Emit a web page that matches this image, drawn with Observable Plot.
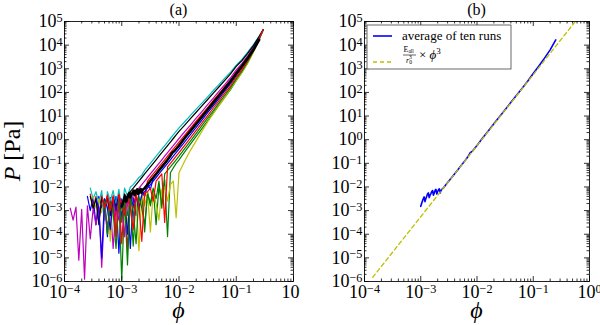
<!DOCTYPE html>
<html><head><meta charset="utf-8">
<script src="https://cdn.jsdelivr.net/npm/d3@7"></script>
<script src="https://cdn.jsdelivr.net/npm/@observablehq/plot@0.6"></script>
<style>
body{margin:0;background:#fff;}
#wrap{display:flex;width:600px;height:325px;overflow:hidden;}
svg{overflow:hidden;}
</style></head><body><div id="wrap"></div>
<script>
// ---------- data (log10 values) ----------
// common log10(phi) sampling of the ten runs; each run is aligned to the END of this grid
const logPhiGrid = [-3.9,-3.85,-3.8,-3.75,-3.7,-3.65,-3.6,-3.55,-3.5,-3.45,-3.4,-3.35,-3.3,-3.25,-3.2,-3.15,-3.1,-3.05,-3.0,-2.95,-2.9,-2.85,-2.8,-2.75,-2.7,-2.65,-2.6,-2.55,-2.5,-2.45,-2.4,-2.35,-2.3,-2.25,-2.2,-2.15,-2.1,-2.05,-2.0,-1.9,-1.8,-1.7,-1.6,-1.5,-1.4,-1.3,-1.2,-1.1,-1.0,-0.9,-0.8,-0.7,-0.6,-0.53];

const runBlue1 = [-2.4,-3.0,-2.45,-3.6,-2.4,-2.9,-2.5,-4.1,-2.45,-3.1,-2.4,-4.8,-2.5,-2.95,-2.4,-4.6,-2.45,-3.2,-2.3,
  -2.15,-2.4,-1.9,-2.1,-1.65,-1.45,-1.3,-1.15,-1.0,-0.85,-0.7,-0.55,-0.4,-0.25,
  0.08,0.33,0.66,0.93,1.27,1.53,1.86,2.13,2.46,2.78,3.11,3.44,3.86,4.28,4.65];
const runGreen1 = [-2.5,-3.1,-2.6,-4.1,-2.5,-5.95,-2.5,-3.2,-2.4,-4.5,-2.3,-3.0,-2.3,-3.9,-2.2,-2.8,-2.1,-3.6,-1.95,-2.7,-1.7,-4.1,-1.4,-1.2,-1.0,-0.85,
  -0.52,-0.19,0.14,0.47,0.8,1.13,1.46,1.79,2.12,2.5,2.85,3.25,3.72,4.24,4.65];
const runRed1 = [-2.3,-2.9,-2.4,-3.5,-2.35,-2.8,-2.4,-3.9,-2.35,-3.0,-2.4,-4.4,-2.3,-4.7,-2.35,-2.9,-2.25,
  -2.2,-2.1,-2.4,-1.75,-1.6,-1.45,-1.3,-1.15,-1.0,-0.85,-0.7,-0.55,-0.4,-0.25,-0.1,
  0.19,0.49,0.78,1.07,1.36,1.66,1.95,2.24,2.53,2.88,3.16,3.5,3.88,4.32,4.65];
const runCyan = [-2.05,-2.5,-2.2,-2.7,-2.15,-3.4,-2.2,-2.6,-2.15,-2.8,-2.1,-3.0,-2.05,-2.4,
  -2.0,-1.9,-1.75,-1.6,-1.5,-1.3,-1.15,-1.0,-0.85,-0.7,-0.55,-0.4,-0.25,-0.1,0.05,0.2,0.35,0.5,
  0.76,1.03,1.29,1.55,1.81,2.08,2.34,2.6,2.86,3.15,3.4,3.7,4.02,4.38,4.65];
const runMagenta = [-2.9,-3.4,-2.85,-5.1,-2.95,-5.9,-2.8,-4.2,-2.9,-3.6,-2.8,-5.4,-2.9,-3.7,-2.7,-4.6,-2.8,-3.4,-2.6,-4.1,-2.5,-2.9,
  -2.35,-2.2,-2.05,-1.9,-1.75,-1.6,-1.45,-1.3,-1.15,-1.0,-0.85,-0.7,-0.55,-0.4,-0.25,-0.1,0.05,
  0.34,0.62,0.91,1.19,1.48,1.76,2.05,2.33,2.62,2.95,3.23,3.55,3.92,4.33,4.65];
const runYellow = [-2.4,-2.9,-2.5,-3.1,-2.5,-2.8,-4.3,-2.5,-2.9,-2.45,-3.0,-2.5,-3.6,-2.4,-2.8,-2.45,-4.7,-2.3,-2.8,-2.25,-3.9,-2.2,-2.7,-3.4,-2.1,-2.0,-2.6,-1.9,-1.75,-3.3,-1.4,
  -0.9,-0.45,-0.05,0.35,0.75,1.1,1.45,1.8,2.15,2.5,2.85,3.25,3.7,4.23,4.65];
const runBlack = [-2.4,-2.9,-2.5,-3.6,-2.45,-2.8,-2.4,-3.2,-2.45,-2.85,-2.35,-2.9,-2.3,-2.6,-2.2,
  -2.05,-1.9,-1.75,-1.6,-1.45,-1.3,-1.15,-1.0,-0.85,-0.7,-0.55,-0.4,-0.25,-0.1,0.05,0.2,0.35,
  0.62,0.89,1.16,1.43,1.7,1.97,2.24,2.51,2.78,3.1,3.35,3.65,3.98,4.36,4.65];
const runBlue2 = [-2.5,-2.9,-5.0,-2.5,-2.9,-3.8,-2.45,-3.0,-2.4,-3.3,-2.45,-4.0,-2.4,-2.8,-2.4,-2.9,
  -2.35,-2.2,-2.05,-1.9,-1.75,-1.6,-1.45,-1.3,-1.15,-1.0,-0.85,-0.7,-0.55,-0.4,
  -0.09,0.21,0.52,0.83,1.14,1.44,1.75,2.06,2.37,2.72,3.04,3.4,3.82,4.28,4.65];
const runGreen2 = [-2.6,-4.0,-2.6,-3.1,-4.6,-2.5,-3.5,-2.5,-5.3,-2.45,-3.0,-4.4,-2.4,-2.9,-3.6,-2.3,-2.7,-2.05,-2.5,-1.75,
  -2.9,-1.45,-1.3,-1.15,-1.0,-0.85,-0.7,
  -0.38,-0.06,0.27,0.59,0.91,1.23,1.56,1.88,2.2,2.57,2.91,3.3,3.75,4.25,4.65];
const runRed2 = [-2.4,-2.9,-2.35,-3.0,-2.4,-4.1,-2.3,-2.8,-3.2,-2.35,-2.9,-3.8,-2.3,-2.8,-4.3,-2.25,-2.2,-2.05,-2.6,
  -1.75,-1.6,-1.45,-3.5,-1.15,-1.0,-0.85,-0.7,-0.55,
  -0.24,0.08,0.39,0.71,1.02,1.34,1.65,1.97,2.28,2.65,2.97,3.35,3.78,4.27,4.65];

// average of the ten runs
const logPhiAvg = [-3.0,-2.985,-2.97,-2.955,-2.94,-2.925,-2.91,-2.895,-2.88,-2.865,-2.85,-2.835,-2.82,-2.805,-2.79,-2.775,-2.76,-2.745,-2.73,-2.715,-2.7,-2.685,-2.67,-2.655,-2.64,-2.625,
  -2.6,-2.55,-2.5,-2.45,-2.4,-2.35,-2.3,-2.25,-2.2,-2.15,-2.12,-2.08,
  -2.0,-1.9,-1.8,-1.7,-1.6,-1.5,-1.4,-1.3,-1.2,-1.1,-1.0,-0.9,-0.8,-0.7,-0.6];
const logPAvg = [-2.82,-2.7,-2.6,-2.5,-2.42,-2.62,-2.5,-2.4,-2.3,-2.25,-2.45,-2.35,-2.28,-2.2,-2.15,-2.35,-2.25,-2.15,-2.1,-2.3,-2.2,-2.12,-2.08,-2.25,-2.15,-2.1,
  -2.05,-1.9,-1.75,-1.6,-1.45,-1.3,-1.15,-1.0,-0.85,-0.68,-0.55,-0.48,
  -0.25,0.07,0.37,0.67,0.97,1.27,1.57,1.87,2.17,2.47,2.8,3.12,3.45,3.8,4.22];

// reference power law  E_all / r0^3 * phi^3 (end points)
const fitPhi = [1.4e-4, 0.56];
const fitP = [1.5e-6, 1e5];

// run colours (matplotlib cycle b g r c m y k b g r)
const runList = [
  {vals: runBlue1, color: "#0000ff"},
  {vals: runGreen1, color: "#008000"},
  {vals: runRed1, color: "#ff0000"},
  {vals: runCyan, color: "#00bfbf"},
  {vals: runMagenta, color: "#bf00bf"},
  {vals: runYellow, color: "#bfbf00"},
  {vals: runBlack, color: "#000000"},
  {vals: runBlue2, color: "#0000ff"},
  {vals: runGreen2, color: "#008000"},
  {vals: runRed2, color: "#ff0000"}
];

// axis ticks
const xMajor = [1e-4, 1e-3, 1e-2, 1e-1, 1];
const yMajor = [1e-6, 1e-5, 1e-4, 1e-3, 1e-2, 1e-1, 1, 1e1, 1e2, 1e3, 1e4, 1e5];
const xDomain = [1e-4, 1];
const yDomain = [1e-6, 1e5];

// ---------- build rows ----------
const runRows = runList.map(r => {
  const off = logPhiGrid.length - r.vals.length;
  return r.vals.map((v, i) => ({phi: 10 ** logPhiGrid[off + i], P: 10 ** v}));
});
const avgRows = logPhiAvg.map((v, i) => ({phi: 10 ** v, P: 10 ** logPAvg[i]}));
const fitRows = fitPhi.map((v, i) => ({phi: v, P: fitP[i]}));

const isPow = d => Math.abs(Math.log10(d) - Math.round(Math.log10(d))) < 1e-6;
const xMinor = d3.scaleLog().domain(xDomain).ticks(40).filter(d => !isPow(d));
const yMinor = d3.scaleLog().domain(yDomain).ticks(40).filter(d => !isPow(d));
const fmt = d => "10^" + Math.round(Math.log10(d));

const H = 325, MT = 21, MB = 44;
const FONT = "'Liberation Serif', 'DejaVu Serif', serif";
const PHI = "\u03d5";

function frameMarks(innerW, innerH) {
  const sw = 0.8;
  return [
    Plot.frame({stroke: "#222", strokeWidth: 1}),
    Plot.tickX(xMajor, {insetTop: innerH - 5, strokeWidth: sw}),
    Plot.tickX(xMajor, {insetBottom: innerH - 5, strokeWidth: sw}),
    Plot.tickX(xMinor, {insetTop: innerH - 2.5, strokeWidth: sw}),
    Plot.tickX(xMinor, {insetBottom: innerH - 2.5, strokeWidth: sw}),
    Plot.tickY(yMajor, {insetRight: innerW - 5, strokeWidth: sw}),
    Plot.tickY(yMajor, {insetLeft: innerW - 5, strokeWidth: sw}),
    Plot.tickY(yMinor, {insetRight: innerW - 2.5, strokeWidth: sw}),
    Plot.tickY(yMinor, {insetLeft: innerW - 2.5, strokeWidth: sw}),
    Plot.axisX(xMajor, {tickSize: 0, tickPadding: 4, tickFormat: fmt, label: null}),
    Plot.axisY(yMajor, {tickSize: 0, tickPadding: 2, tickFormat: fmt, label: null})
  ];
}

function superscripts(svg) {
  d3.select(svg).attr("font-family", FONT).style("font-family", FONT);
  d3.select(svg).selectAll('g[aria-label="x-axis tick label"], g[aria-label="y-axis tick label"]')
    .attr("font-family", FONT).style("font-family", FONT);
  d3.select(svg).selectAll('g[aria-label="x-axis tick label"] text, g[aria-label="y-axis tick label"] text').each(function () {
    const s = this.textContent;
    const parts = s.split("^");
    if (parts.length < 2) return;
    const t = d3.select(this).attr("font-family", FONT).style("font-family", FONT);
    t.text(null);
    t.append("tspan").text(parts[0]);
    t.append("tspan").attr("dy", "-0.42em").attr("font-size", "0.68em").text(parts[1].replace("-", "\u2212"));
  });
}

function labels(svg, ml, innerW, title, withY) {
  const s = d3.select(svg);
  const cx = ml + innerW / 2;
  s.append("text").attr("x", cx).attr("y", 15).attr("text-anchor", "middle")
    .attr("font-size", 16).attr("font-family", FONT).attr("fill", "black").text(title);
  s.append("text").attr("x", cx).attr("y", 318).attr("text-anchor", "middle")
    .attr("font-size", 24).attr("font-style", "italic").attr("font-family", FONT).attr("fill", "black").text(PHI);
  if (withY) {
    const yl = s.append("text").attr("transform", `translate(20,${MT + (H - MT - MB) / 2}) rotate(-90)`)
      .attr("text-anchor", "middle").attr("font-size", 24).attr("font-family", FONT).attr("fill", "black");
    yl.append("tspan").attr("font-style", "italic").text("P");
    yl.append("tspan").text(" [Pa]");
  }
}

// ---------- panel (a) ----------
const wA = 300, mlA = 64, mrA = 7;
const innerWA = wA - mlA - mrA, innerH = H - MT - MB;
const svgA = Plot.plot({
  width: wA, height: H, marginLeft: mlA, marginRight: mrA, marginTop: MT, marginBottom: MB,
  x: {type: "log", domain: xDomain},
  y: {type: "log", domain: yDomain},
  style: {fontFamily: FONT, fontSize: "18px", color: "black", background: "white"},
  marks: [
    ...runRows.map((rows, k) => Plot.line(rows, {x: "phi", y: "P", stroke: runList[k].color, strokeWidth: 1.2, clip: true})),
    Plot.line(avgRows, {x: "phi", y: "P", stroke: "black", strokeWidth: 2.6, clip: true}),
    ...frameMarks(innerWA, innerH)
  ]
});
superscripts(svgA);
labels(svgA, mlA, innerWA, "(a)", true);

// ---------- panel (b) ----------
const wB = 300, mlB = 64, mrB = 11;
const innerWB = wB - mlB - mrB;
const svgB = Plot.plot({
  width: wB, height: H, marginLeft: mlB, marginRight: mrB, marginTop: MT, marginBottom: MB,
  x: {type: "log", domain: xDomain},
  y: {type: "log", domain: yDomain},
  style: {fontFamily: FONT, fontSize: "18px", color: "black", background: "white"},
  marks: [
    Plot.line(avgRows, {x: "phi", y: "P", stroke: "#0000ff", strokeWidth: 1.6, clip: true}),
    Plot.line(fitRows, {x: "phi", y: "P", stroke: "#bfbf00", strokeWidth: 1.3, strokeDasharray: "4,3", clip: true}),
    ...frameMarks(innerWB, innerH)
  ]
});
superscripts(svgB);
labels(svgB, mlB, innerWB, "(b)", false);

// legend of panel (b)
{
  const g = d3.select(svgB).append("g").attr("font-family", FONT).attr("fill", "black").attr("text-anchor", "start");
  g.append("rect").attr("x", 67).attr("y", 25).attr("width", 144).attr("height", 44)
    .attr("fill", "white").attr("stroke", "#444").attr("stroke-width", 0.8);
  g.append("line").attr("x1", 73).attr("x2", 92).attr("y1", 36).attr("y2", 36)
    .attr("stroke", "#0000ff").attr("stroke-width", 1.6);
  g.append("text").attr("x", 102).attr("y", 40).attr("font-size", 13).attr("text-anchor", "start").text("average of ten runs");
  g.append("line").attr("x1", 73).attr("x2", 92).attr("y1", 62).attr("y2", 62)
    .attr("stroke", "#bfbf00").attr("stroke-width", 1.3).attr("stroke-dasharray", "4,3");
  const num = g.append("text").attr("x", 103.5).attr("y", 52).attr("font-size", 8).attr("text-anchor", "start");
  num.append("tspan").text("E");
  num.append("tspan").attr("font-size", 5.5).attr("dy", 1.2).text("all");
  g.append("line").attr("x1", 103).attr("x2", 116).attr("y1", 55).attr("y2", 55)
    .attr("stroke", "black").attr("stroke-width", 0.6);
  const den = g.append("text").attr("x", 106).attr("y", 62.5).attr("font-size", 8).attr("text-anchor", "start");
  den.append("tspan").attr("font-style", "italic").text("r");
  den.append("tspan").attr("font-size", 5.5).attr("dy", 1.5).text("0");
  den.append("tspan").attr("font-size", 5.5).attr("dx", -3).attr("dy", -5.5).text("3");
  const rest = g.append("text").attr("x", 119).attr("y", 59).attr("font-size", 13).attr("text-anchor", "start");
  rest.append("tspan").text("\u00d7 ");
  rest.append("tspan").attr("font-style", "italic").text(PHI);
  rest.append("tspan").attr("font-size", 9).attr("dy", -5).text("3");
}

const wrap = document.getElementById("wrap");
wrap.appendChild(svgA);
wrap.appendChild(svgB);
</script>
</body></html>
